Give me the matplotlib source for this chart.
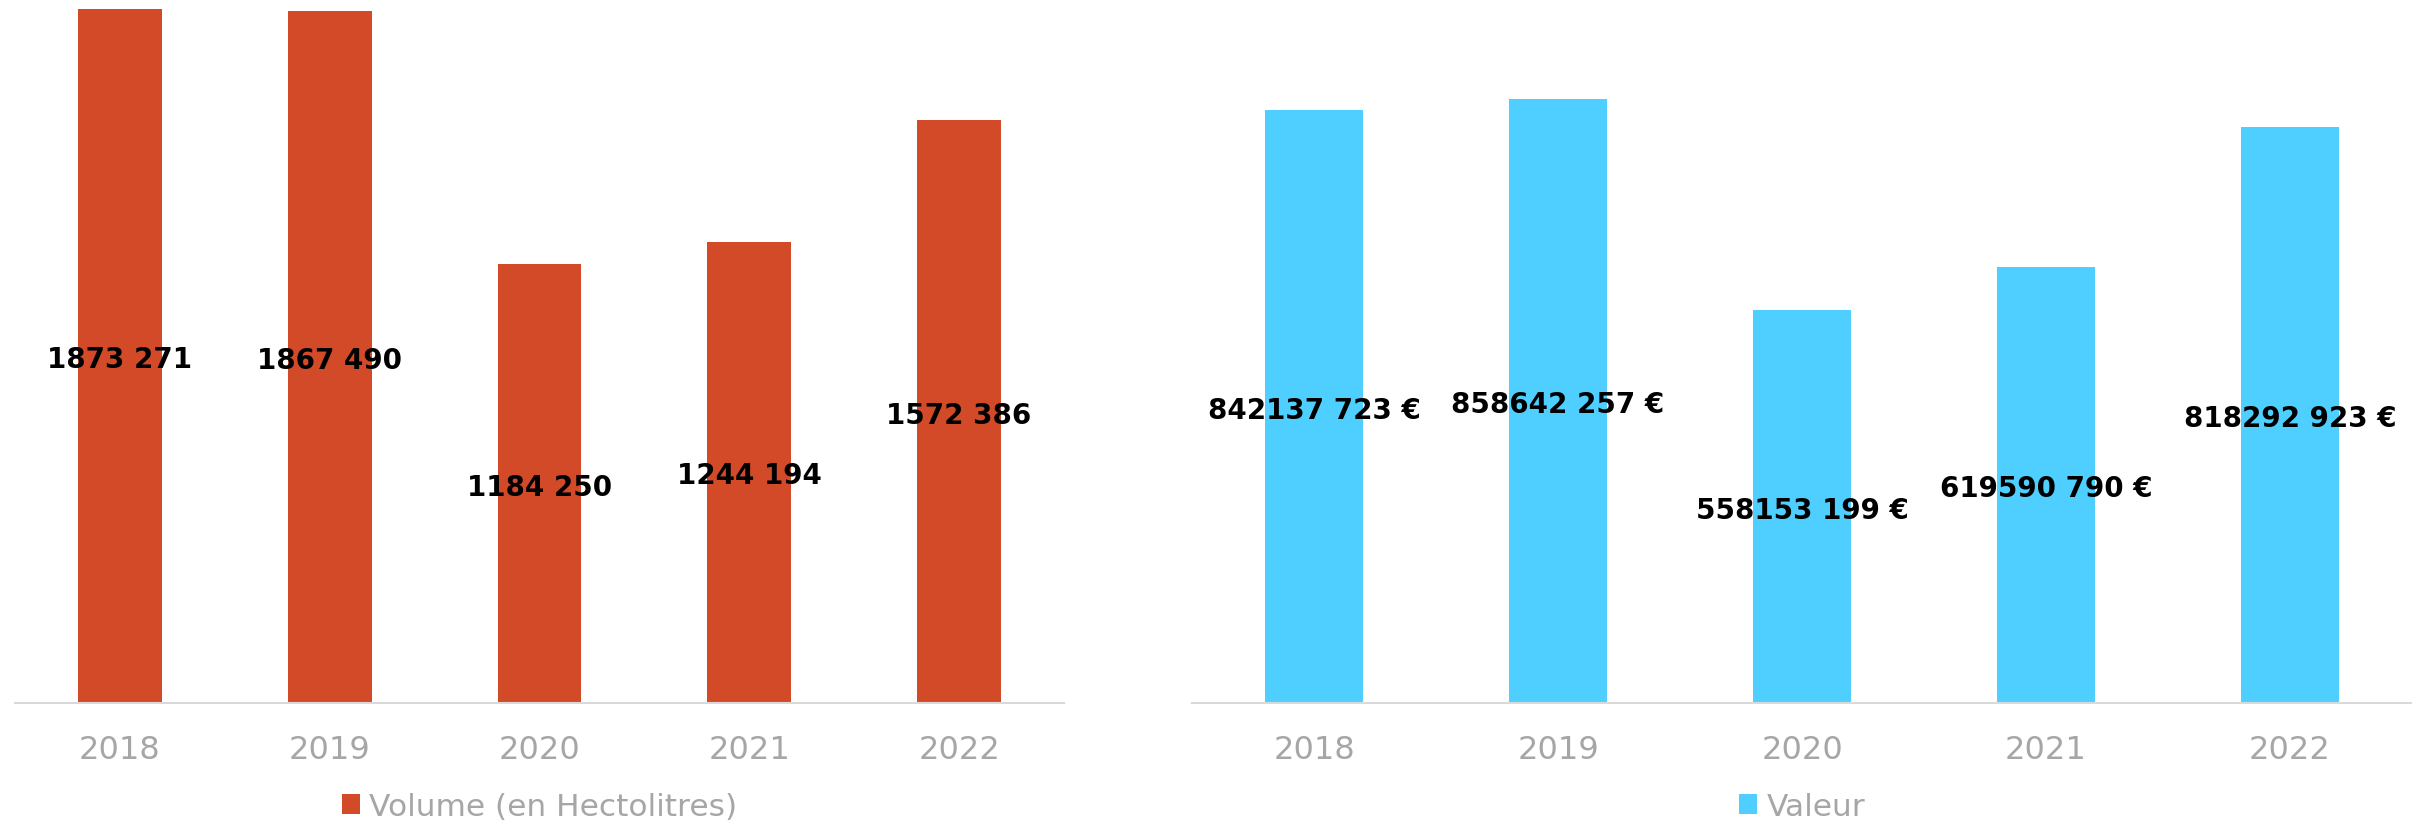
import matplotlib
matplotlib.use("Agg")
import matplotlib.pyplot as plt

years = ["2018", "2019", "2020", "2021", "2022"]
volume_hl = [1873271, 1867490, 1184250, 1244194, 1572386]
valeur_eur = [842137723, 858642257, 558153199, 619590790, 818292923]

vol_label = "Volume (en Hectolitres)"
val_label = "Valeur"

W, H = 2412, 828


def fmt(v):
    # le premier separateur de milliers est absent dans l'original
    s = f"{v:,}".replace(",", " ")
    return s.replace(" ", "", 1)


def draw_bars(ax, values, color, ymax, label, suffix=""):
    x = range(len(years))
    bars = ax.bar(x, values, width=0.4, color=color, label=label)
    for b, v in zip(bars, values):
        ax.text(b.get_x() + b.get_width() / 2, v / 2, fmt(v) + suffix,
                ha="center", va="center_baseline", fontsize=20,
                fontweight="bold", color="black")
    ax.set_xlim(-0.5, len(years) - 0.5)
    ax.set_ylim(0, ymax)
    ax.set_xticks(list(x))
    ax.set_xticklabels(years)
    ax.tick_params(axis="x", length=0, pad=22, labelsize=23, labelcolor="#A6A6A6")
    ax.set_yticks([])
    for s in ["top", "left", "right"]:
        ax.spines[s].set_visible(False)
    ax.spines["bottom"].set_color("#D9D9D9")
    ax.spines["bottom"].set_linewidth(1.5)


fig = plt.figure(figsize=(W / 100, H / 100), dpi=100)
bottom = (H - 704) / H
height = 704 / H
ax1 = fig.add_axes([15 / W, bottom, 1049 / W, height])
ax2 = fig.add_axes([1192 / W, bottom, 1220 / W, height])

draw_bars(ax1, volume_hl, "#D24A28", 1.9e6, vol_label)
draw_bars(ax2, valeur_eur, "#4FCFFF", 1.0e9, val_label, " €")

for ax, cx in [(ax1, (15 + 1064) / 2 / W), (ax2, (1192 + 2412) / 2 / W)]:
    leg = ax.legend(loc="lower center", bbox_to_anchor=(cx, 0.007),
                    bbox_transform=fig.transFigure, frameon=False,
                    fontsize=22.5, handlelength=0.58, handleheight=0.58,
                    handletextpad=0.3, borderpad=0, borderaxespad=0)
    for t in leg.get_texts():
        t.set_color("#A6A6A6")

fig.savefig("out.png", dpi=100)
